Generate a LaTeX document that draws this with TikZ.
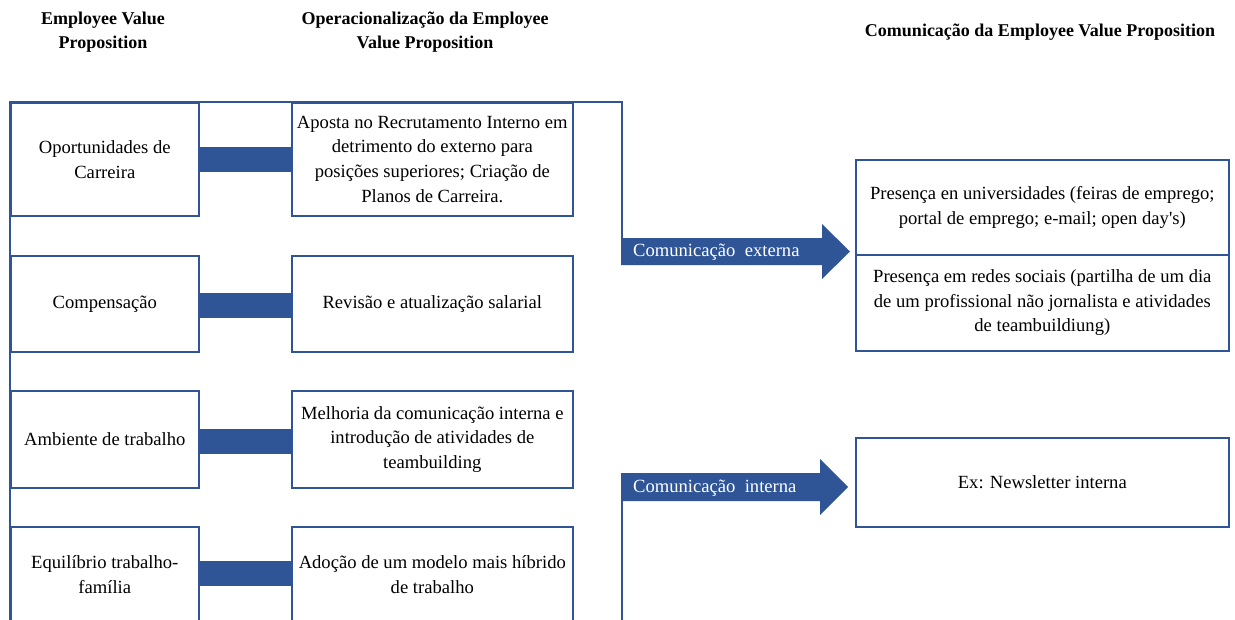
\documentclass[tikz,border=0pt]{standalone}
\usepackage{fontspec}
\setmainfont{Liberation Serif}
\definecolor{bluec}{RGB}{47,85,151}
\begin{document}
\begin{tikzpicture}[x=1pt,y=-1pt,
  box/.style={draw=bluec, line width=1.6pt, align=center, inner sep=0pt, anchor=north west,
    font=\fontsize{18.6}{24.7}\selectfont},
  ttl/.style={align=center, inner sep=0pt, font=\bfseries\fontsize{18}{24}\selectfont},
  bar/.style={draw=bluec, line width=25pt},
  frame/.style={draw=bluec, line width=1.6pt},
  arrowshape/.style={fill=bluec, draw=none},
  lbl/.style={text=white, inner sep=0pt, anchor=west, font=\fontsize{18.6}{22}\selectfont}]
\useasboundingbox (0,0) rectangle (1235,619);
\clip (0,0) rectangle (1235,619);
% titles
\node[ttl] (t1) at (103,32) {Employee Value\\Proposition};
\node[ttl] (t2) at (425,32) {Operacionalização da Employee\\Value Proposition};
\node[ttl] (t3) at (1040,32) {Comunicação da Employee Value Proposition};
% frame
\coordinate (fbl) at (10,625);
\coordinate (ftl) at (10,102);
\coordinate (ftr) at (622,102);
\coordinate (fa1) at (622,238);
\coordinate (fa2) at (622,501);
\coordinate (fbr) at (622,625);
\draw[frame] (fbl) -- (ftl) -- (ftr) -- (fa1);
\draw[frame] (fa2) -- (fbr);
% left column
\node[box, minimum width=188pt, minimum height=113pt] (ev1) at (10,102) {Oportunidades de\\Carreira};
\node[box, minimum width=188pt, minimum height=96pt] (ev2) at (10,255) {Compensação};
\node[box, minimum width=188pt, minimum height=97pt] (ev3) at (10,390) {Ambiente de trabalho};
\node[box, minimum width=188pt, minimum height=96pt] (ev4) at (10,526) {Equilíbrio trabalho-\\família};
% middle column
\node[box, minimum width=281pt, minimum height=113pt] (op1) at (291,102) {Aposta no Recrutamento Interno em\\detrimento do externo para\\posições superiores; Criação de\\Planos de Carreira.};
\node[box, minimum width=281pt, minimum height=96pt] (op2) at (291,255) {Revisão e atualização salarial};
\node[box, minimum width=281pt, minimum height=97pt] (op3) at (291,390) {Melhoria da comunicação interna e\\introdução de atividades de\\teambuilding};
\node[box, minimum width=281pt, minimum height=96pt] (op4) at (291,526) {Adoção de um modelo mais híbrido\\de trabalho};
% bars
\draw[bar] (ev1.east) -- (op1.west);
\draw[bar] ([yshift=-2pt]ev2.east) -- ([yshift=-2pt]op2.west);
\draw[bar] ([yshift=-2pt]ev3.east) -- ([yshift=-2pt]op3.west);
\draw[bar] ([yshift=1pt]ev4.east) -- ([yshift=1pt]op4.west);
% right boxes
\node[box, minimum width=373pt, minimum height=95pt] (c1) at (855,159) {Presença en universidades (feiras de emprego;\\portal de emprego; e-mail; open day\textquotesingle s)};
\node[box, minimum width=373pt, minimum height=96pt] (c2) at (855,254) {Presença em redes sociais (partilha de um dia\\de um profissional não jornalista e atividades\\de teambuildiung)};
\node[box, minimum width=373pt, minimum height=89pt] (c3) at (855,437) {Ex: Newsletter interna};
% arrows
\fill[arrowshape] (621,238) -- (822,238) -- (822,224) -- (850,251.5) -- (822,279) -- (822,265) -- (621,265) -- cycle;
\node[lbl] (ext) at (633,252) {Comunicação\hspace{0.5em}externa};
\fill[arrowshape] (621,473) -- (820,473) -- (820,459) -- (848,487) -- (820,515) -- (820,501) -- (621,501) -- cycle;
\node[lbl] (int) at (633,488) {Comunicação\hspace{0.5em}interna};
\end{tikzpicture}
\end{document}
